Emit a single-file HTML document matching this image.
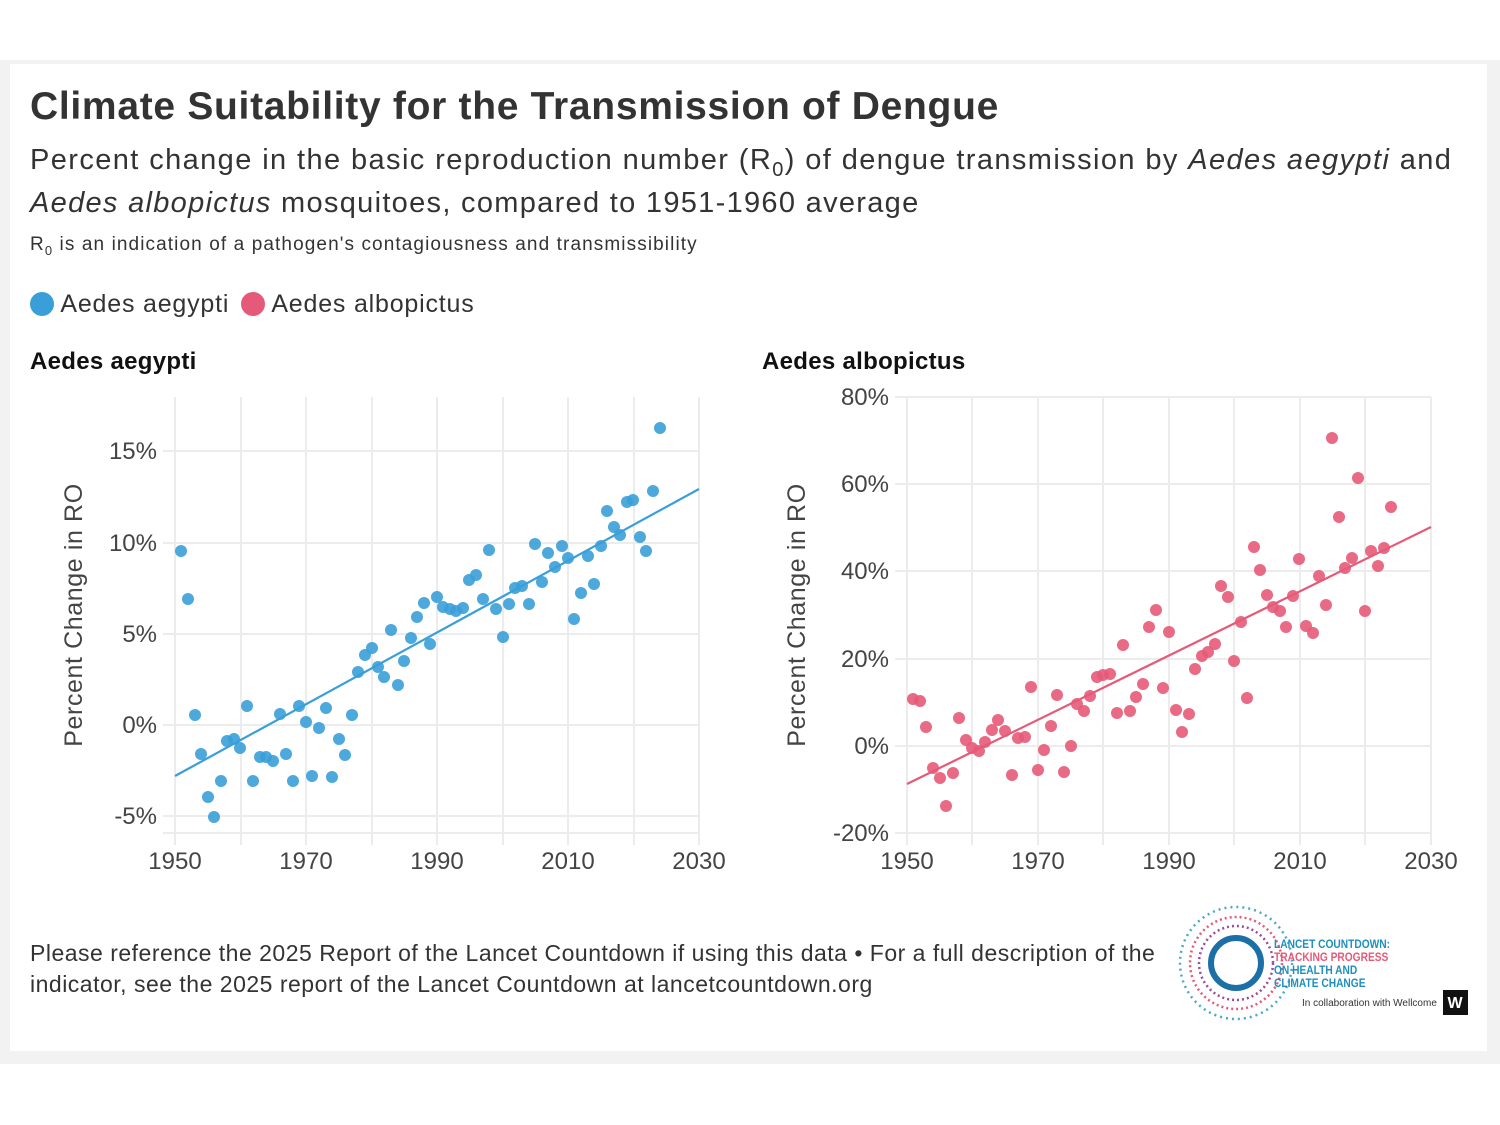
<!DOCTYPE html>
<html><head><meta charset="utf-8"><style>
body{margin:0;width:1500px;height:1125px;background:#fff;font-family:"Liberation Sans",sans-serif;position:relative;overflow:hidden}
.frame{position:absolute;left:0;top:60px;width:1500px;height:1004px;background:#f2f2f2}
.card{position:absolute;left:10px;top:64px;width:1477px;height:987px;background:#fff}
.t{position:absolute;color:#222;white-space:nowrap}
</style></head><body>
<div class="frame"></div><div class="card"></div>
<div class="t" style="left:30px;top:85px;font-size:39px;font-weight:bold;color:#333;letter-spacing:0.7px">Climate Suitability for the Transmission of Dengue</div>
<div class="t" style="left:30px;top:144px;font-size:29px;color:#333;letter-spacing:1.4px">Percent change in the basic reproduction number (R<sub style="font-size:20px">0</sub>) of dengue transmission by <i>Aedes aegypti</i> and</div>
<div class="t" style="left:30px;top:187px;font-size:29px;color:#333;letter-spacing:1.3px"><i>Aedes albopictus</i> mosquitoes, compared to 1951-1960 average</div>
<div class="t" style="left:30px;top:234px;font-size:19px;color:#333;letter-spacing:1.1px">R<sub style="font-size:13px">0</sub> is an indication of a pathogen's contagiousness and transmissibility</div>
<div class="t" style="left:30px;top:290px;font-size:25px;color:#333;letter-spacing:0.8px"><span style="display:inline-block;width:24px;height:24px;border-radius:50%;background:#3a9fd8;vertical-align:-4px"></span> Aedes aegypti <span style="display:inline-block;width:24px;height:24px;border-radius:50%;background:#e55a78;vertical-align:-4px;margin-left:4px"></span> Aedes albopictus</div>
<div class="t" style="left:30px;top:348px;font-size:24px;font-weight:bold;color:#111;letter-spacing:0.3px">Aedes aegypti</div>
<div class="t" style="left:762px;top:348px;font-size:24px;font-weight:bold;color:#111;letter-spacing:0.3px">Aedes albopictus</div>
<svg style="position:absolute;left:0;top:0" width="1500" height="1125" font-family="Liberation Sans, sans-serif">
<g stroke="#ececec" stroke-width="2">
<path d="M175 397V845M241 397V845M306 397V845M372 397V845M437 397V845M503 397V845M568 397V845M634 397V845M699 397V845"/>
<path d="M163 451H699M163 543H699M163 634H699M163 725H699M163 816H699M163 833H699"/>
<path d="M907 397V845M972 397V845M1038 397V845M1103 397V845M1169 397V845M1234 397V845M1300 397V845M1365 397V845M1431 397V845"/>
<path d="M895 397H1431M895 484H1431M895 571H1431M895 659H1431M895 746H1431M895 833H1431"/>
</g>
<g font-size="24" fill="#444" text-anchor="end">
<text x="157" y="459">15%</text><text x="157" y="551">10%</text><text x="157" y="642">5%</text><text x="157" y="733">0%</text><text x="157" y="824">-5%</text>
<text x="889" y="405">80%</text><text x="889" y="492">60%</text><text x="889" y="579">40%</text><text x="889" y="667">20%</text><text x="889" y="754">0%</text><text x="889" y="841">-20%</text>
</g>
<g font-size="24" fill="#444" text-anchor="middle">
<text x="175" y="869">1950</text><text x="306" y="869">1970</text><text x="437" y="869">1990</text><text x="568" y="869">2010</text><text x="699" y="869">2030</text>
<text x="907" y="869">1950</text><text x="1038" y="869">1970</text><text x="1169" y="869">1990</text><text x="1300" y="869">2010</text><text x="1431" y="869">2030</text>
<text transform="translate(82,615) rotate(-90)" font-size="25" letter-spacing="0.6">Percent Change in RO</text>
<text transform="translate(805,615) rotate(-90)" font-size="25" letter-spacing="0.6">Percent Change in RO</text>
</g>
<g fill="#3a9fd8" fill-opacity="0.9">
<circle cx="181" cy="551" r="6"/><circle cx="188" cy="599" r="6"/><circle cx="195" cy="715" r="6"/><circle cx="201" cy="754" r="6"/><circle cx="208" cy="797" r="6"/><circle cx="214" cy="817" r="6"/><circle cx="221" cy="781" r="6"/><circle cx="227" cy="741" r="6"/><circle cx="234" cy="739" r="6"/><circle cx="240" cy="748" r="6"/><circle cx="247" cy="706" r="6"/><circle cx="253" cy="781" r="6"/><circle cx="260" cy="757" r="6"/><circle cx="266" cy="757" r="6"/><circle cx="273" cy="761" r="6"/><circle cx="280" cy="714" r="6"/><circle cx="286" cy="754" r="6"/><circle cx="293" cy="781" r="6"/><circle cx="299" cy="706" r="6"/><circle cx="306" cy="722" r="6"/><circle cx="312" cy="776" r="6"/><circle cx="319" cy="728" r="6"/><circle cx="326" cy="708" r="6"/><circle cx="332" cy="777" r="6"/><circle cx="339" cy="739" r="6"/><circle cx="345" cy="755" r="6"/><circle cx="352" cy="715" r="6"/><circle cx="358" cy="672" r="6"/><circle cx="365" cy="655" r="6"/><circle cx="372" cy="648" r="6"/><circle cx="378" cy="667" r="6"/><circle cx="384" cy="677" r="6"/><circle cx="391" cy="630" r="6"/><circle cx="398" cy="685" r="6"/><circle cx="404" cy="661" r="6"/><circle cx="411" cy="638" r="6"/><circle cx="417" cy="617" r="6"/><circle cx="424" cy="603" r="6"/><circle cx="430" cy="644" r="6"/><circle cx="437" cy="597" r="6"/><circle cx="443" cy="607" r="6"/><circle cx="450" cy="609" r="6"/><circle cx="456" cy="611" r="6"/><circle cx="463" cy="608" r="6"/><circle cx="469" cy="580" r="6"/><circle cx="476" cy="575" r="6"/><circle cx="483" cy="599" r="6"/><circle cx="489" cy="550" r="6"/><circle cx="496" cy="609" r="6"/><circle cx="503" cy="637" r="6"/><circle cx="509" cy="604" r="6"/><circle cx="515" cy="588" r="6"/><circle cx="522" cy="586" r="6"/><circle cx="529" cy="604" r="6"/><circle cx="535" cy="544" r="6"/><circle cx="542" cy="582" r="6"/><circle cx="548" cy="553" r="6"/><circle cx="555" cy="567" r="6"/><circle cx="562" cy="546" r="6"/><circle cx="568" cy="558" r="6"/><circle cx="574" cy="619" r="6"/><circle cx="581" cy="593" r="6"/><circle cx="588" cy="556" r="6"/><circle cx="594" cy="584" r="6"/><circle cx="601" cy="546" r="6"/><circle cx="607" cy="511" r="6"/><circle cx="614" cy="527" r="6"/><circle cx="620" cy="535" r="6"/><circle cx="627" cy="502" r="6"/><circle cx="633" cy="500" r="6"/><circle cx="640" cy="537" r="6"/><circle cx="646" cy="551" r="6"/><circle cx="653" cy="491" r="6"/><circle cx="660" cy="428" r="6"/>
</g>
<line x1="175" y1="776" x2="699" y2="489" stroke="#3a9fd8" stroke-width="2.2"/>
<g fill="#e55a78" fill-opacity="0.9">
<circle cx="913" cy="699" r="6"/><circle cx="920" cy="701" r="6"/><circle cx="926" cy="727" r="6"/><circle cx="933" cy="768" r="6"/><circle cx="940" cy="778" r="6"/><circle cx="946" cy="806" r="6"/><circle cx="953" cy="773" r="6"/><circle cx="959" cy="718" r="6"/><circle cx="966" cy="740" r="6"/><circle cx="972" cy="748" r="6"/><circle cx="979" cy="751" r="6"/><circle cx="985" cy="742" r="6"/><circle cx="992" cy="730" r="6"/><circle cx="998" cy="720" r="6"/><circle cx="1005" cy="731" r="6"/><circle cx="1012" cy="775" r="6"/><circle cx="1018" cy="738" r="6"/><circle cx="1025" cy="737" r="6"/><circle cx="1031" cy="687" r="6"/><circle cx="1038" cy="770" r="6"/><circle cx="1044" cy="750" r="6"/><circle cx="1051" cy="726" r="6"/><circle cx="1057" cy="695" r="6"/><circle cx="1064" cy="772" r="6"/><circle cx="1071" cy="746" r="6"/><circle cx="1077" cy="704" r="6"/><circle cx="1084" cy="711" r="6"/><circle cx="1090" cy="696" r="6"/><circle cx="1097" cy="677" r="6"/><circle cx="1103" cy="675" r="6"/><circle cx="1110" cy="674" r="6"/><circle cx="1117" cy="713" r="6"/><circle cx="1123" cy="645" r="6"/><circle cx="1130" cy="711" r="6"/><circle cx="1136" cy="697" r="6"/><circle cx="1143" cy="684" r="6"/><circle cx="1149" cy="627" r="6"/><circle cx="1156" cy="610" r="6"/><circle cx="1163" cy="688" r="6"/><circle cx="1169" cy="632" r="6"/><circle cx="1176" cy="710" r="6"/><circle cx="1182" cy="732" r="6"/><circle cx="1189" cy="714" r="6"/><circle cx="1195" cy="669" r="6"/><circle cx="1202" cy="656" r="6"/><circle cx="1208" cy="652" r="6"/><circle cx="1215" cy="644" r="6"/><circle cx="1221" cy="586" r="6"/><circle cx="1228" cy="597" r="6"/><circle cx="1234" cy="661" r="6"/><circle cx="1241" cy="622" r="6"/><circle cx="1247" cy="698" r="6"/><circle cx="1254" cy="547" r="6"/><circle cx="1260" cy="570" r="6"/><circle cx="1267" cy="595" r="6"/><circle cx="1273" cy="607" r="6"/><circle cx="1280" cy="611" r="6"/><circle cx="1286" cy="627" r="6"/><circle cx="1293" cy="596" r="6"/><circle cx="1299" cy="559" r="6"/><circle cx="1306" cy="626" r="6"/><circle cx="1313" cy="633" r="6"/><circle cx="1319" cy="576" r="6"/><circle cx="1326" cy="605" r="6"/><circle cx="1332" cy="438" r="6"/><circle cx="1339" cy="517" r="6"/><circle cx="1345" cy="568" r="6"/><circle cx="1352" cy="558" r="6"/><circle cx="1358" cy="478" r="6"/><circle cx="1365" cy="611" r="6"/><circle cx="1371" cy="551" r="6"/><circle cx="1378" cy="566" r="6"/><circle cx="1384" cy="548" r="6"/><circle cx="1391" cy="507" r="6"/>
</g>
<line x1="907" y1="784" x2="1431" y2="527" stroke="#e55a78" stroke-width="2.2"/>
<g fill="none">
<circle cx="1236" cy="963" r="56" stroke="#4aa8c8" stroke-width="2.5" stroke-dasharray="2 4"/>
<circle cx="1236" cy="963" r="46" stroke="#e55a78" stroke-width="2.5" stroke-dasharray="2 3"/>
<circle cx="1236" cy="963" r="37" stroke="#9b4b9b" stroke-width="2.5" stroke-dasharray="2 3"/>
<circle cx="1236" cy="963" r="25" stroke="#1d6fa8" stroke-width="6"/>
</g>
<g font-size="12" font-weight="bold" transform="translate(1274,0) scale(0.85,1)">
<text x="0" y="948" fill="#1d8fc0">LANCET COUNTDOWN:</text>
<text x="0" y="961" fill="#e55a78">TRACKING PROGRESS</text>
<text x="0" y="974" fill="#1d8fc0">ON HEALTH AND</text>
<text x="0" y="987" fill="#1d8fc0">CLIMATE CHANGE</text>
</g>
<text x="1302" y="1006" font-size="10" fill="#333">In collaboration with Wellcome</text>
<rect x="1443" y="990" width="25" height="25" fill="#111"/>
<text x="1455" y="1008" font-size="16" font-weight="bold" fill="#fff" text-anchor="middle">W</text>
</svg>
<div class="t" style="left:30px;top:938px;font-size:23px;color:#333;line-height:31px;letter-spacing:0.5px">Please reference the 2025 Report of the Lancet Countdown if using this data • For a full description of the<br>indicator, see the 2025 report of the Lancet Countdown at lancetcountdown.org</div>
</body></html>
